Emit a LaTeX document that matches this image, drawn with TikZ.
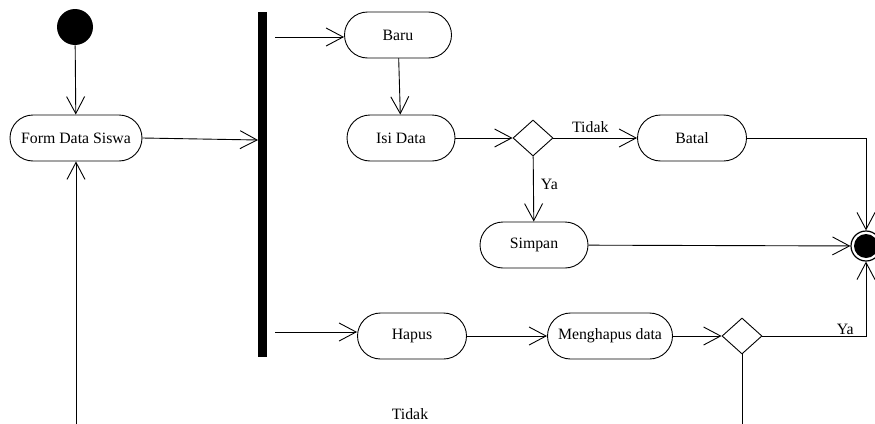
\documentclass[tikz,border=0pt]{standalone}
\usepackage{fontspec}
\setmainfont{Liberation Serif}
\usetikzlibrary{arrows.meta,shapes.geometric}
\begin{document}
\begin{tikzpicture}[x=1pt,y=-1pt,line width=0.9pt,
  txt/.style={font=\fontsize{15.8}{18}\selectfont},
  act/.style={draw, txt, rounded corners=23pt, minimum height=46pt, inner xsep=2pt},
  flow/.style={-{Straight Barb[length=17pt,width=18pt,line width=0.9pt]}},
  dec/.style={draw, diamond, minimum width=40pt, minimum height=36pt, inner sep=0pt},
  lbl/.style={txt, inner sep=1pt}]
\useasboundingbox (0,0) rectangle (875,423);
\clip (0,0) rectangle (875,423);

% start, fork bar and end
\node[circle, fill, minimum size=36pt, inner sep=0pt] (start) at (75,27) {};
\node[fill, minimum width=9pt, minimum height=345pt, inner sep=0pt] (bar) at (262.5,184.5) {};
\node[circle, draw, fill=white, minimum size=30pt, inner sep=0pt, line width=1.2pt] (end) at (866,246) {};
\fill (end.center) circle (12pt);

% actions
\node[act, minimum width=132pt] (form) at (76,138) {Form Data Siswa};
\node[act, minimum width=107pt] (baru) at (398,35) {Baru};
\node[act, minimum width=108pt] (isi) at (401,138) {Isi Data};
\node[act, minimum width=109pt] (batal) at (692,138) {Batal};
\node[act, minimum width=108pt] (simpan) at (534,245) {Simpan};
\node[act, minimum width=109pt] (hapus) at (412,336) {Hapus};
\node[act, minimum width=125pt] (mh) at (610,336) {Menghapus data};

% decisions
\node[dec] (d1) at (533,138) {};
\node[dec] (d2) at (742,336) {};

% fork in/out points
\coordinate (fin) at (258,140);
\coordinate (b1) at (275,37);
\coordinate (b2) at (275,332);

% flows
\draw[flow] (start) -- (form);
\draw[flow] (form.east) -- (fin);
\draw[flow] (b1) -- (b1 -| baru.west);
\draw[flow] (b2) -- (b2 -| hapus.west);
\draw[flow] (baru) -- (isi);
\draw[flow] (isi) -- (d1);
\draw[flow] (d1) -- node[lbl, above, yshift=4pt, xshift=-5pt] {Tidak} (batal);
\draw[flow] (d1) -- node[lbl, right, xshift=6pt, yshift=5pt] {Ya} (simpan);
\draw[flow] (batal) -| (end);
\draw[flow] (simpan) -- (end);
\draw[flow] (hapus) -- (mh);
\draw[flow] (mh) -- (d2);
\draw[flow] (d2) -| node[lbl, pos=0.4, above] {Ya} (end);
\draw[flow] (d2.south) -- ++(0,110) -| (form.south);
\node[lbl] (tidak2) at (410,414) {Tidak};
\end{tikzpicture}
\end{document}
